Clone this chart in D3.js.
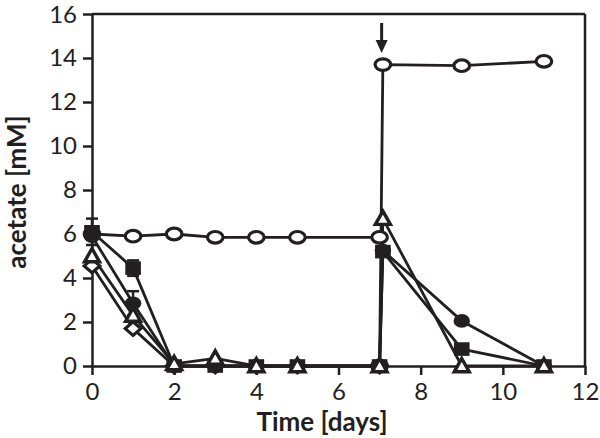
<!DOCTYPE html>
<html>
<head>
<meta charset="utf-8">
<script src="https://cdn.jsdelivr.net/npm/d3@7/dist/d3.min.js"></script>
<style>
  html, body { margin: 0; padding: 0; background: #fff; }
  svg { display: block; }
  text { font-family: Lato, "Open Sans", sans-serif; fill: #231f20; }
</style>
</head>
<body>
<svg id="chart" width="600" height="438"></svg>
<script>
// ---- data ----
const xTicks = [0, 2, 4, 6, 8, 10, 12];
const yTicks = [0, 2, 4, 6, 8, 10, 12, 14, 16];

const controlDays = [0, 1, 2, 3, 4, 5, 7];
const controlVals = [6.0, 5.9, 6.0, 5.85, 5.85, 5.85, 5.85];

const spikeDays = [7, 7.08, 9, 11];
const spikeVals = [0, 13.7, 13.65, 13.85];

const squareDays = [0, 1, 2, 3, 4, 5, 7, 7.08, 9, 11];
const squareVals = [6.1, 4.45, 0, 0, 0, 0, 0, 5.2, 0.77, 0];
const squareErr  = [0.6, 0.35, 0, 0, 0, 0, 0, 0, 0, 0];

const circleDays = [0, 1, 2, 3, 4, 5, 7, 7.08, 9, 11];
const circleVals = [5.9, 2.85, 0, 0, 0, 0, 0, 5.25, 2.05, 0];
const circleErr  = [0, 0.55, 0, 0, 0, 0, 0, 0, 0, 0];

const triDays = [0, 1, 2, 3, 4, 5, 7, 7.08, 9, 11];
const triVals = [5.0, 2.3, 0.1, 0.35, 0, 0, 0, 6.7, 0, 0];

const diaDays = [0, 1, 2, 3, 4, 5, 7];
const diaVals = [4.55, 1.7, 0, 0, 0, 0, 0];

const arrowDay = 7.05;

// ---- layout ----
const svg = d3.select("#chart");
const ink = "#231f20";
const x = d3.scaleLinear().domain([0, 12]).range([92, 585]);
const y = d3.scaleLinear().domain([0, 16]).range([366, 14]);

// frame (top & right)
svg.append("line").attr("x1", x(0)).attr("x2", x(12)).attr("y1", y(16)).attr("y2", y(16))
  .attr("stroke", ink).attr("stroke-width", 2.5);
svg.append("line").attr("x1", x(12)).attr("x2", x(12)).attr("y1", y(16)).attr("y2", y(0))
  .attr("stroke", ink).attr("stroke-width", 2.5);

// axes
const xAxis = d3.axisBottom(x).tickValues(xTicks).tickSize(9).tickSizeOuter(0).tickPadding(8);
const yAxis = d3.axisLeft(y).tickValues(yTicks).tickSize(9).tickSizeOuter(0).tickPadding(6);

const gx = svg.append("g").attr("transform", `translate(0,${y(0)})`).call(xAxis);
const gy = svg.append("g").attr("transform", `translate(${x(0)},0)`).call(yAxis);
[gx, gy].forEach(g => {
  g.select(".domain").attr("stroke", ink).attr("stroke-width", 2.5);
  g.selectAll(".tick line").attr("stroke", ink).attr("stroke-width", 2.5);
  g.selectAll(".tick text").attr("font-family", "Lato, 'Open Sans', sans-serif")
    .attr("font-size", 24).attr("fill", ink);
});
gy.selectAll(".tick text").filter(d => d === 16).attr("dy", "0.36em");

// axis titles
svg.append("text").attr("x", 322).attr("y", 431).attr("text-anchor", "middle")
  .attr("font-size", 26).attr("font-weight", "bold").text("Time [days]");
svg.append("text").attr("transform", "translate(26,192) rotate(-90)").attr("text-anchor", "middle")
  .attr("font-size", 26).attr("font-weight", "bold").text("acetate [mM]");

// series definitions
const series = [
  { days: controlDays, vals: controlVals, shape: "circleOpen" },
  { days: spikeDays, vals: spikeVals, shape: "circleOpen" },
  { days: diaDays, vals: diaVals, shape: "diamondOpen" },
  { days: squareDays, vals: squareVals, err: squareErr, shape: "square" },
  { days: circleDays, vals: circleVals, err: circleErr, shape: "circle" },
  { days: triDays, vals: triVals, shape: "triOpen" }
];

const line = d3.line().x(d => x(d[0])).y(d => y(d[1]));

// lines
series.forEach(s => {
  const pts = s.days.map((d, i) => [d, s.vals[i]]);
  svg.append("path").attr("d", line(pts)).attr("fill", "none")
    .attr("stroke", ink).attr("stroke-width", 2.8).attr("stroke-linejoin", "round");
});

// error bars
series.forEach(s => {
  if (!s.err) return;
  s.days.forEach((d, i) => {
    const e = s.err[i];
    if (!e) return;
    const cx = x(d);
    svg.append("line").attr("x1", cx).attr("x2", cx).attr("y1", y(s.vals[i] + e)).attr("y2", y(s.vals[i] - e))
      .attr("stroke", ink).attr("stroke-width", 2.5);
    [s.vals[i] + e, s.vals[i] - e].forEach(v => {
      svg.append("line").attr("x1", cx - 6).attr("x2", cx + 6).attr("y1", y(v)).attr("y2", y(v))
        .attr("stroke", ink).attr("stroke-width", 2.5);
    });
  });
});

// markers
function drawMarker(shape, cx, cy) {
  if (shape === "circleOpen") {
    svg.append("ellipse").attr("cx", cx).attr("cy", cy).attr("rx", 7.8).attr("ry", 5.8)
      .attr("fill", "#fff").attr("stroke", ink).attr("stroke-width", 3.2);
  } else if (shape === "circle") {
    svg.append("ellipse").attr("cx", cx).attr("cy", cy).attr("rx", 8.2).attr("ry", 6.8).attr("fill", ink);
  } else if (shape === "square") {
    svg.append("rect").attr("x", cx - 7.8).attr("y", cy - 6.8).attr("width", 15.6).attr("height", 13.6).attr("fill", ink);
  } else if (shape === "triOpen") {
    svg.append("path").attr("d", `M${cx},${cy - 7.5} L${cx + 7.5},${cy + 5.8} L${cx - 7.5},${cy + 5.8} Z`)
      .attr("fill", "#fff").attr("stroke", ink).attr("stroke-width", 3.4).attr("stroke-linejoin", "miter");
  } else if (shape === "diamondOpen") {
    svg.append("path").attr("d", `M${cx},${cy - 6.8} L${cx + 7.8},${cy} L${cx},${cy + 6.8} L${cx - 7.8},${cy} Z`)
      .attr("fill", "#fff").attr("stroke", ink).attr("stroke-width", 3.2);
  }
}
series.forEach(s => {
  s.days.forEach((d, i) => drawMarker(s.shape, x(d), y(s.vals[i])));
});

// arrow
const ax = x(arrowDay);
svg.append("line").attr("x1", ax).attr("x2", ax).attr("y1", 23).attr("y2", 44)
  .attr("stroke", ink).attr("stroke-width", 3);
svg.append("path").attr("d", `M${ax - 6},${40} L${ax + 6},${40} L${ax},${53} Z`).attr("fill", ink);
</script>
</body>
</html>
